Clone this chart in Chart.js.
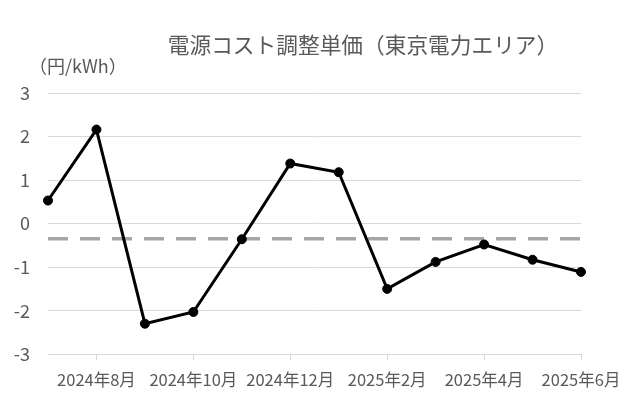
<!DOCTYPE html>
<html>
<head>
<meta charset="utf-8">
<script src="https://cdn.jsdelivr.net/npm/chart.js@4/dist/chart.umd.min.js"></script>
<style>
  html, body { margin: 0; padding: 0; background: #fff; }
  #wrap { width: 640px; height: 400px; }
</style>
</head>
<body>
<div id="wrap"><canvas id="myChart" width="640" height="400"></canvas></div>
<script>
// ---------------- data ----------------
var months = ['2024年7月', '2024年8月', '2024年9月', '2024年10月', '2024年11月', '2024年12月',
              '2025年1月', '2025年2月', '2025年3月', '2025年4月', '2025年5月', '2025年6月'];
var unitPrice = [0.53, 2.16, -2.30, -2.03, -0.36, 1.38, 1.18, -1.50, -0.88, -0.48, -0.83, -1.11];
var avgLine = [-0.35, -0.35, -0.35, -0.35, -0.35, -0.35, -0.35, -0.35, -0.35, -0.35, -0.35, -0.35];
var yTicks = [-3, -2, -1, 0, 1, 2, 3];

var titleText = '電源コスト調整単価（東京電力エリア）';
var unitText = '（円/kWh）';
var fontFam = '"Noto Sans CJK JP", "Noto Sans", sans-serif';

// title + unit label
var headerPlugin = {
    id: 'header',
    afterDraw: function(chart) {
        var c = chart.ctx;
        c.save();
        c.fillStyle = '#595959';
        c.textBaseline = 'middle';
        c.textAlign = 'center';
        c.font = '21.7px ' + fontFam;
        c.fillText(titleText, 363, 45);
        c.textAlign = 'left';
        c.font = '18px ' + fontFam;
        c.fillText(unitText, 29, 66);
        c.restore();
    }
};

var ctx = document.getElementById('myChart').getContext('2d');
var chart = new Chart(ctx, {
    type: 'line',
    data: {
        labels: months,
        datasets: [{
            data: unitPrice,
            borderColor: '#000',
            backgroundColor: '#000',
            borderWidth: 3,
            pointRadius: 4.5,
            pointBorderWidth: 1,
            pointHoverRadius: 4.5,
            tension: 0
        }, {
            data: avgLine,
            borderColor: '#a6a6a6',
            borderWidth: 3.5,
            borderDash: [20, 12],
            pointRadius: 0,
            tension: 0
        }]
    },
    options: {
        responsive: false,
        animation: false,
        layout: { padding: { left: 0, right: 59, top: 93, bottom: 0 } },
        plugins: { legend: { display: false }, title: { display: false }, tooltip: { enabled: false } },
        scales: {
            x: {
                offset: false,
                border: { display: true, color: '#d9d9d9' },
                grid: {
                    drawOnChartArea: false,
                    drawTicks: true,
                    tickLength: 6,
                    color: function(c) { return c.index % 2 === 1 ? '#d9d9d9' : 'rgba(0,0,0,0)'; }
                },
                ticks: {
                    autoSkip: false,
                    maxRotation: 0,
                    padding: 10,
                    color: '#595959',
                    font: { family: fontFam, size: 16.5 },
                    callback: function(v, i) { return i % 2 === 1 ? months[i] : ''; }
                }
            },
            y: {
                min: -3,
                max: 3,
                afterFit: function(scale) { scale.width = 48; },
                afterBuildTicks: function(scale) { scale.ticks = yTicks.map(function(v) { return { value: v }; }); },
                border: { display: false },
                grid: { color: '#d9d9d9', drawTicks: false },
                ticks: {
                    padding: 18,
                    color: '#595959',
                    font: { family: fontFam, size: 18 }
                }
            }
        }
    },
    plugins: [headerPlugin]
});
</script>
</body>
</html>
